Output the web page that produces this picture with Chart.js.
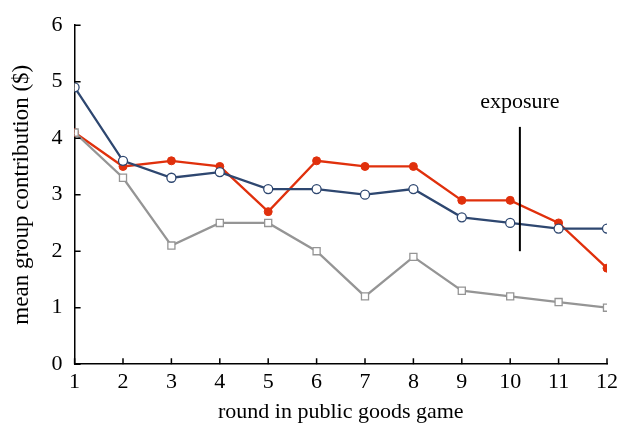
<!DOCTYPE html>
<html>
<head>
<meta charset="utf-8">
<script src="https://cdn.jsdelivr.net/npm/chart.js@4/dist/chart.umd.min.js"></script>
<style>
  html, body { margin: 0; padding: 0; background: #fff; }
  #wrap { width: 629px; height: 428px; }
</style>
</head>
<body>
<div id="wrap"><canvas id="c" width="629" height="428"></canvas></div>
<script>
const rounds = [1, 2, 3, 4, 5, 6, 7, 8, 9, 10, 11, 12];
const blueValues = [4.9, 3.6, 3.3, 3.4, 3.1, 3.1, 3.0, 3.1, 2.6, 2.5, 2.4, 2.4];
const redValues = [4.1, 3.5, 3.6, 3.5, 2.7, 3.6, 3.5, 3.5, 2.9, 2.9, 2.5, 1.7];
const greyValues = [4.1, 3.3, 2.1, 2.5, 2.5, 2.0, 1.2, 1.9, 1.3, 1.2, 1.1, 1.0];
const exposureRound = 10.2;
const exposureRange = [2.0, 4.2];

const SERIF = '"Liberation Serif", "Times New Roman", serif';

function toPoints(values) {
    return values.map((v, i) => ({x: rounds[i], y: v}));
}

// inward tick marks + exposure marker
const extras = {
    id: 'extras',
    afterDraw(chart) {
        const ctx = chart.ctx;
        const xs = chart.scales.x;
        const ys = chart.scales.y;
        ctx.save();
        ctx.strokeStyle = '#000';
        ctx.lineWidth = 1.5;
        ctx.beginPath();
        rounds.forEach(r => {
            const px = xs.getPixelForValue(r);
            ctx.moveTo(px, ys.bottom);
            ctx.lineTo(px, ys.bottom - 6);
        });
        for (let v = 0; v <= 6; v++) {
            const py = ys.getPixelForValue(v);
            ctx.moveTo(xs.left, py);
            ctx.lineTo(xs.left + 6, py);
        }
        ctx.stroke();

        const ex = xs.getPixelForValue(exposureRound);
        ctx.lineWidth = 2;
        ctx.beginPath();
        ctx.moveTo(ex, ys.getPixelForValue(exposureRange[0]));
        ctx.lineTo(ex, ys.getPixelForValue(exposureRange[1]));
        ctx.stroke();

        ctx.fillStyle = '#000';
        ctx.font = '22px ' + SERIF;
        ctx.textAlign = 'center';
        ctx.textBaseline = 'alphabetic';
        ctx.fillText('exposure', ex, ys.getPixelForValue(exposureRange[1]) - 19);
        ctx.restore();
    }
};

new Chart(document.getElementById('c'), {
    type: 'line',
    data: {
        datasets: [
            {
                label: 'grey',
                data: toPoints(greyValues),
                borderColor: '#959595',
                backgroundColor: '#fff',
                borderWidth: 2.3,
                pointStyle: 'rect',
                pointRadius: 5,
                pointBorderWidth: 1.3,
                pointBorderColor: '#959595',
                pointBackgroundColor: '#fff'
            },
            {
                label: 'blue',
                data: toPoints(blueValues),
                borderColor: '#2e4770',
                backgroundColor: '#fff',
                borderWidth: 2.3,
                pointStyle: 'circle',
                pointRadius: 4.5,
                pointBorderWidth: 1.3,
                pointBorderColor: '#2e4770',
                pointBackgroundColor: '#fff'
            },
            {
                label: 'red',
                data: toPoints(redValues),
                borderColor: '#e0300c',
                backgroundColor: '#e0300c',
                borderWidth: 2.3,
                pointStyle: 'circle',
                pointRadius: 4,
                pointBorderWidth: 1,
                pointBorderColor: '#e0300c',
                pointBackgroundColor: '#e0300c'
            }
        ]
    },
    options: {
        responsive: false,
        animation: false,
        layout: {
            padding: {left: 8, right: 22, top: 5, bottom: 3}
        },
        plugins: {
            legend: {display: false},
            tooltip: {enabled: false}
        },
        scales: {
            x: {
                type: 'linear',
                min: 1,
                max: 12,
                grid: {display: false, drawTicks: false},
                border: {display: true, color: '#000', width: 1.5},
                ticks: {
                    stepSize: 1,
                    color: '#000',
                    padding: 5,
                    font: {family: SERIF, size: 22}
                },
                title: {
                    display: true,
                    text: 'round in public goods game',
                    color: '#000',
                    padding: {top: -2, bottom: 0},
                    font: {family: SERIF, size: 22}
                }
            },
            y: {
                min: 0,
                max: 6,
                grid: {display: false, drawTicks: false},
                border: {display: true, color: '#000', width: 1.5},
                ticks: {
                    stepSize: 1,
                    color: '#000',
                    padding: 12,
                    font: {family: SERIF, size: 22}
                },
                title: {
                    display: true,
                    text: 'mean group contribution ($)',
                    color: '#000',
                    padding: {top: 0, bottom: 4},
                    font: {family: SERIF, size: 23}
                }
            }
        }
    },
    plugins: [extras]
});
</script>
</body>
</html>
